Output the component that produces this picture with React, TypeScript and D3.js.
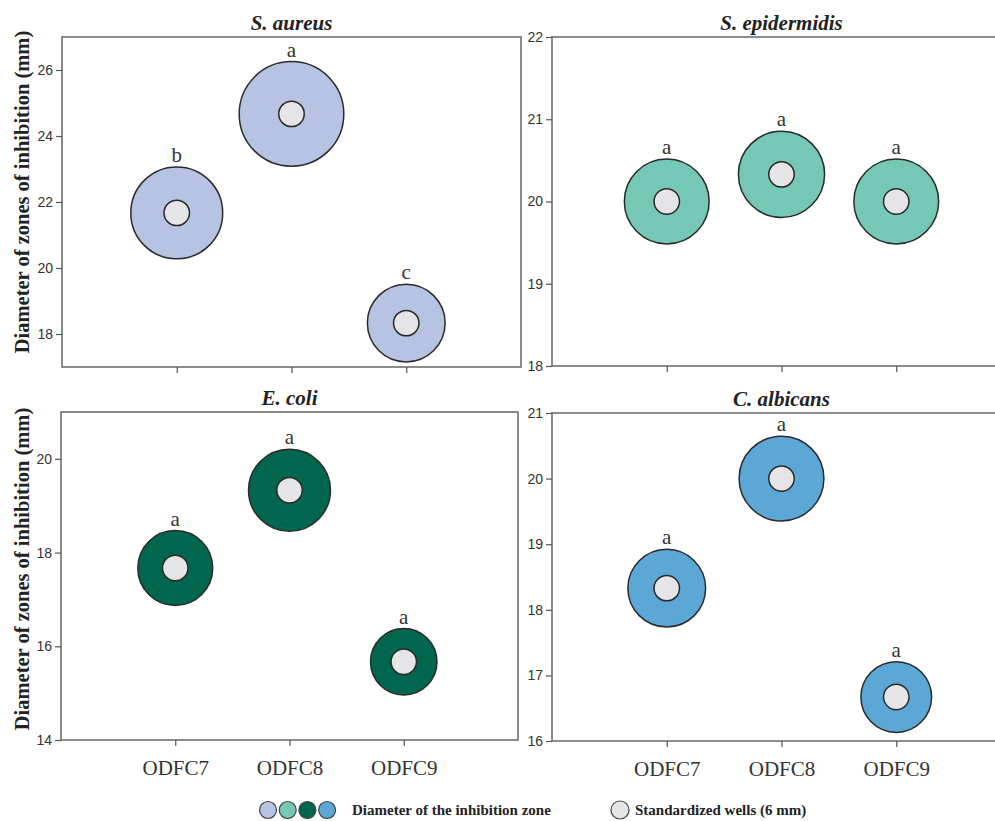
import * as d3 from 'd3';
import React, { useEffect, useRef } from 'react';

const categories = ['ODFC7', 'ODFC8', 'ODFC9'];
const organisms = ['S. aureus', 'S. epidermidis', 'E. coli', 'C. albicans'];
const aureusValues = [21.67, 24.67, 18.33];
const epidermidisValues = [20, 20.33, 20];
const coliValues = [17.67, 19.33, 15.67];
const albicansValues = [18.33, 20, 16.67];
const aureusLetters = ['b', 'a', 'c'];
const epidermidisLetters = ['a', 'a', 'a'];
const coliLetters = ['a', 'a', 'a'];
const albicansLetters = ['a', 'a', 'a'];
const aureusTicks = [18, 20, 22, 24, 26];
const epidermidisTicks = [18, 19, 20, 21, 22];
const coliTicks = [14, 16, 18, 20];
const albicansTicks = [16, 17, 18, 19, 20, 21];
const wellSize = 6;
const colors = ['#b7c3e2', '#74c8b5', '#00664e', '#5ba8d7'];

function App() {
    const ref = useRef();

    useEffect(() => {
        const svg = d3.select(ref.current);
        svg.selectAll('*').remove();

        const panels = [
            { name: organisms[0], values: aureusValues, letters: aureusLetters, ticks: aureusTicks, domain: [17, 27], x0: 62, x1: 521, y0: 37, y1: 367, color: colors[0] },
            { name: organisms[1], values: epidermidisValues, letters: epidermidisLetters, ticks: epidermidisTicks, domain: [18, 22], x0: 552, x1: 1011, y0: 37, y1: 366, color: colors[1] },
            { name: organisms[2], values: coliValues, letters: coliLetters, ticks: coliTicks, domain: [14, 21], x0: 61, x1: 518, y0: 412, y1: 740, color: colors[2], bottom: true },
            { name: organisms[3], values: albicansValues, letters: albicansLetters, ticks: albicansTicks, domain: [16, 21], x0: 552, x1: 1011, y0: 413, y1: 741, color: colors[3], bottom: true },
        ];

        // circle radius in px, proportional to zone diameter
        const r = d3.scaleLinear().domain([0, 10]).range([0, 21.2]);

        panels.forEach(p => {
            const x = d3.scalePoint().domain(categories).range([p.x0, p.x1]).padding(1);
            const y = d3.scaleLinear().domain(p.domain).range([p.y1, p.y0]);
            const g = svg.append('g');

            g.append('rect')
                .attr('x', p.x0).attr('y', p.y0)
                .attr('width', p.x1 - p.x0).attr('height', p.y1 - p.y0)
                .attr('fill', '#fff').attr('stroke', '#666').attr('stroke-width', 1.5);

            const ay = g.append('g')
                .attr('transform', `translate(${p.x0},0)`)
                .call(d3.axisLeft(y).tickValues(p.ticks).tickFormat(d3.format('d')).tickSize(6).tickPadding(3));
            ay.select('.domain').remove();
            ay.selectAll('line').attr('stroke', '#555').attr('stroke-width', 1.2);
            ay.selectAll('text').attr('font-family', 'Liberation Sans, Arial, sans-serif').attr('font-size', 14).attr('fill', '#333');

            const ax = g.append('g')
                .attr('transform', `translate(0,${p.y1})`)
                .call(d3.axisBottom(x).tickSize(6).tickPadding(14));
            ax.select('.domain').remove();
            ax.selectAll('line').attr('stroke', '#555').attr('stroke-width', 1.2);
            ax.selectAll('text')
                .attr('font-family', 'Liberation Serif, Times New Roman, serif')
                .attr('font-size', 21).attr('fill', '#333')
                .attr('dy', '0.71em')
                .style('display', p.bottom ? null : 'none');

            g.append('text')
                .attr('x', (p.x0 + p.x1) / 2)
                .attr('y', p.y0 - 7)
                .attr('text-anchor', 'middle')
                .attr('font-family', 'Liberation Serif, Times New Roman, serif')
                .attr('font-weight', 'bold').attr('font-style', 'italic')
                .attr('font-size', 21).attr('fill', '#222')
                .text(p.name);

            const pts = categories.map((c, i) => ({ c, v: p.values[i], l: p.letters[i] }));

            g.selectAll('.zone')
                .data(pts).enter().append('circle')
                .attr('cx', d => x(d.c)).attr('cy', d => y(d.v))
                .attr('r', d => r(d.v))
                .attr('fill', p.color).attr('stroke', '#2a2a2a').attr('stroke-width', 1.5);

            g.selectAll('.well')
                .data(pts).enter().append('circle')
                .attr('cx', d => x(d.c)).attr('cy', d => y(d.v))
                .attr('r', r(wellSize))
                .attr('fill', '#e5e5e7').attr('stroke', '#2a2a2a').attr('stroke-width', 1.5);

            g.selectAll('.letter')
                .data(pts).enter().append('text')
                .attr('x', d => x(d.c))
                .attr('y', d => y(d.v) - r(d.v) - 5)
                .attr('text-anchor', 'middle')
                .attr('font-family', 'Liberation Serif, Times New Roman, serif')
                .attr('font-size', 21).attr('fill', '#333')
                .text(d => d.l);
        });

        // y axis titles
        [192, 569].forEach(cy => {
            svg.append('text')
                .attr('transform', `translate(29,${cy}) rotate(-90)`)
                .attr('text-anchor', 'middle')
                .attr('font-family', 'Liberation Serif, Times New Roman, serif')
                .attr('font-weight', 'bold').attr('font-size', 20.5).attr('fill', '#222')
                .text('Diameter of zones of inhibition (mm)');
        });

        // legend
        const legend = svg.append('g');
        legend.selectAll('circle.c')
            .data(colors).enter().append('circle')
            .attr('cx', (d, i) => 268 + i * 19.7).attr('cy', 810).attr('r', 8.5)
            .attr('fill', d => d).attr('stroke', '#444').attr('stroke-width', 1.2);
        legend.append('text')
            .attr('x', 352).attr('y', 815)
            .attr('font-family', 'Liberation Serif, Times New Roman, serif')
            .attr('font-weight', 'bold').attr('font-size', 15).attr('fill', '#222')
            .text('Diameter of the inhibition zone');
        legend.append('circle')
            .attr('cx', 620).attr('cy', 810).attr('r', 9)
            .attr('fill', '#e5e5e7').attr('stroke', '#444').attr('stroke-width', 1.2);
        legend.append('text')
            .attr('x', 635).attr('y', 815)
            .attr('font-family', 'Liberation Serif, Times New Roman, serif')
            .attr('font-weight', 'bold').attr('font-size', 15).attr('fill', '#222')
            .text('Standardized wells (6 mm)');
    }, []);

    return <svg ref={ref} width={995} height={821} style={{ position: 'absolute', left: 0, top: 0, background: '#fff' }}></svg>;
}

export default App;
